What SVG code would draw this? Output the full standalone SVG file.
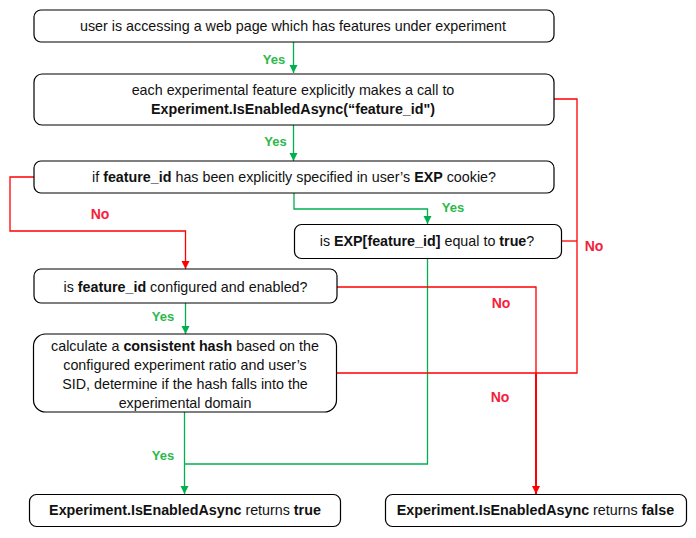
<svg xmlns="http://www.w3.org/2000/svg" width="696" height="538" viewBox="0 0 696 538">
<defs>
<style>
.box{fill:#fff;stroke:#000;stroke-width:1.2}
.t{font-family:"Liberation Sans",Arial,sans-serif;font-size:14.3px;fill:#111;text-anchor:middle}
.b{font-weight:bold}
.g{fill:none;stroke:#00B050;stroke-width:1.3}
.r{fill:none;stroke:#FF0000;stroke-width:1.3}
.yes{font-family:"Liberation Sans",Arial,sans-serif;font-size:13px;font-weight:bold;fill:#2DB84A;text-anchor:middle}
.no{font-family:"Liberation Sans",Arial,sans-serif;font-size:14px;font-weight:bold;fill:#F5213A;text-anchor:middle}
</style>
<marker id="ag" markerUnits="userSpaceOnUse" markerWidth="10" markerHeight="10" refX="8" refY="4" orient="auto"><path d="M0,0 L8,4 L0,8 z" fill="#00B050"/></marker>
<marker id="ar" markerUnits="userSpaceOnUse" markerWidth="10" markerHeight="10" refX="8" refY="4" orient="auto"><path d="M0,0 L8,4 L0,8 z" fill="#FF0000"/></marker>
</defs>
<rect width="696" height="538" fill="#fff"/>
<g id="connectors">
<path class="g" d="M293.5,42 V73" marker-end="url(#ag)"/>
<path class="g" d="M293.5,125 V161" marker-end="url(#ag)"/>
<path class="g" d="M294,193 V209 H427.5 V224" marker-end="url(#ag)"/>
<path class="g" d="M185.5,303 V334" marker-end="url(#ag)"/>
<path class="g" d="M184.5,412 V494" marker-end="url(#ag)"/>
<path class="g" d="M427.5,258 V464 H184.5"/>
<path class="r" d="M34,177 H10 V231 H185.5 V269" marker-end="url(#ar)"/>
<path class="r" d="M554,99 H577 V373 H337"/>
<path class="r" d="M562,241 H577"/>
<path class="r" d="M337,287 H536 V373"/>
<path class="r" style="stroke-width:2" d="M536,373 V494" marker-end="url(#ar)"/>
<text class="yes" x="274" y="64">Yes</text>
<text class="yes" x="275.5" y="146">Yes</text>
<text class="yes" x="453" y="212">Yes</text>
<text class="yes" x="163" y="321">Yes</text>
<text class="yes" x="163" y="460">Yes</text>
<text class="no" x="100" y="219">No</text>
<text class="no" x="594" y="250.5">No</text>
<text class="no" x="501" y="307.5">No</text>
<text class="no" x="500" y="401.5">No</text>
</g>
<g id="n1">
<rect class="box" x="34" y="10" width="520" height="32" rx="7"/>
<text class="t" x="293" y="31">user is accessing a web page which has features under experiment</text>
</g>
<g id="n2">
<rect class="box" x="34" y="74" width="520" height="51" rx="8"/>
<text class="t" x="293" y="95">each experimental feature explicitly makes a call to</text>
<text class="t b" x="293" y="114">Experiment.IsEnabledAsync(“feature_id")</text>
</g>
<g id="n3">
<rect class="box" x="34" y="161" width="520" height="32" rx="7"/>
<text class="t" x="294" y="182">if <tspan class="b">feature_id</tspan> has been explicitly specified in user’s <tspan class="b">EXP</tspan> cookie?</text>
</g>
<g id="n4">
<rect class="box" x="294.5" y="224.5" width="267" height="34" rx="7"/>
<text class="t" x="427" y="246">is <tspan class="b">EXP[feature_id]</tspan> equal to <tspan class="b">true</tspan>?</text>
</g>
<g id="n5">
<rect class="box" x="34" y="269" width="303" height="34" rx="7"/>
<text class="t" x="185.5" y="291.5">is <tspan class="b">feature_id</tspan> configured and enabled?</text>
</g>
<g id="n6">
<rect class="box" x="33.5" y="334" width="303" height="78" rx="12"/>
<text class="t" x="185" y="350.5">calculate a <tspan class="b">consistent hash</tspan> based on the</text>
<text class="t" x="185" y="369.5">configured experiment ratio and user’s</text>
<text class="t" x="185" y="388.5">SID, determine if the hash falls into the</text>
<text class="t" x="185" y="407.5">experimental domain</text>
</g>
<g id="n7">
<rect class="box" x="29.5" y="494.5" width="311" height="32" rx="7"/>
<text class="t" x="185" y="515"><tspan class="b">Experiment.IsEnabledAsync</tspan> returns <tspan class="b">true</tspan></text>
</g>
<g id="n8">
<rect class="box" x="385.5" y="494.5" width="301" height="32" rx="7"/>
<text class="t" x="535.5" y="515"><tspan class="b">Experiment.IsEnabledAsync</tspan> returns <tspan class="b">false</tspan></text>
</g>
</svg>
